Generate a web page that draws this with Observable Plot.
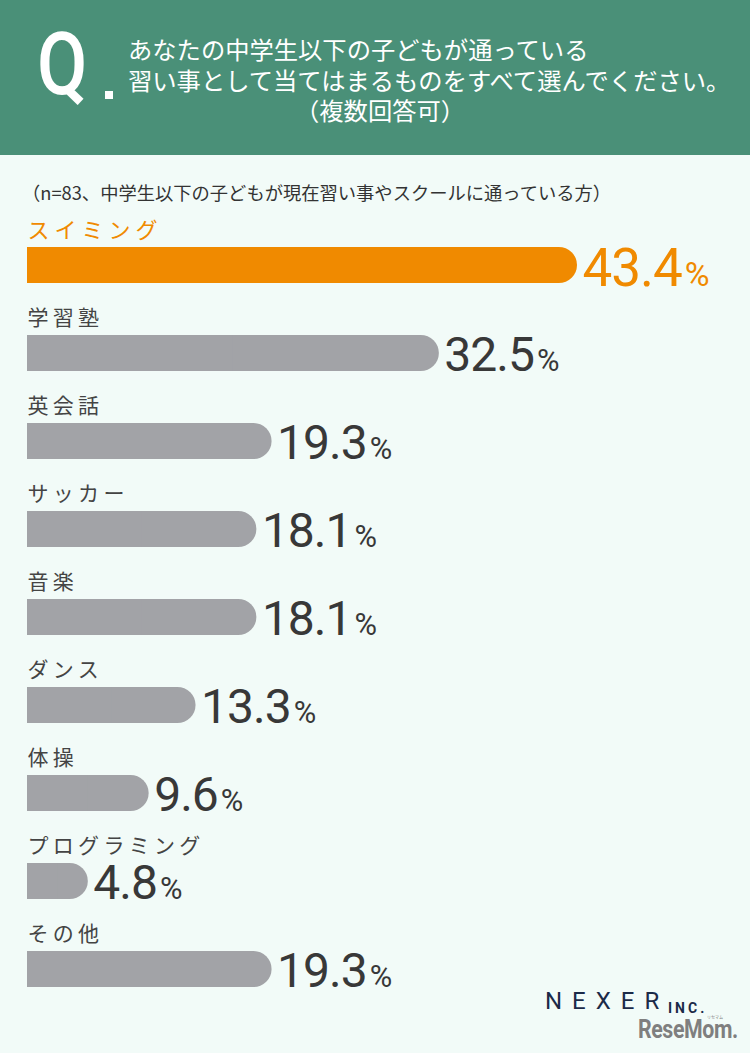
<!DOCTYPE html>
<html lang="ja">
<head>
<meta charset="utf-8">
<script src="https://cdn.jsdelivr.net/npm/d3@7"></script>
<script src="https://cdn.jsdelivr.net/npm/@observablehq/plot@0.6"></script>
<style>
  html, body { margin: 0; padding: 0; background: #f2fbf8; }
  #wrap { position: relative; width: 750px; height: 1053px; background: #f2fbf8; overflow: hidden; font-family: "Noto Sans CJK JP", "Noto Sans", sans-serif; }
  #hdr { position: absolute; left: 0; top: 0; width: 750px; height: 155px; background: #4a9078; }
  .abs { position: absolute; white-space: nowrap; }
  .tl { color: #fff; font-size: 24.3px; line-height: 28px; font-family: "Noto Sans CJK JP", sans-serif; }
  #chart { position: absolute; left: 0; top: 205px; }
</style>
</head>
<body>
<div id="wrap">
  <div id="hdr">
    <div class="abs" style="left:37px;top:21px;font:500 87px/87px Roboto,sans-serif;color:#fff;transform:scaleX(0.84);transform-origin:left top;">Q</div>
    <div class="abs" style="left:105px;top:91px;width:8px;height:8px;background:#fff;"></div>
    <div class="abs tl" style="left:128px;top:35px;">あなたの中学生以下の子どもが通っている</div>
    <div class="abs tl" style="left:128px;top:66px;">習い事として当てはまるものをすべて選んでください。</div>
    <div class="abs tl" style="left:295px;top:96px;">（複数回答可）</div>
  </div>
  <div class="abs" id="sub" style="left:22px;top:180px;font-size:18.3px;line-height:24px;color:#333;">（n=83、中学生以下の子どもが現在習い事やスクールに通っている方）</div>
  <div id="chart"></div>
  <div class="abs" style="left:545px;top:988px;font:400 24px/26px Roboto,sans-serif;color:#1b2a48;letter-spacing:10px;">NEXER</div>
  <div class="abs" style="left:668px;top:1003px;font:700 14px/11px Roboto,sans-serif;color:#1b2a48;letter-spacing:3px;">INC.</div>
  <div class="abs" style="left:707px;top:1014.5px;font:400 4px/4px 'Noto Sans CJK JP',sans-serif;color:#7f7f7f;">リセマム</div>
  <div class="abs" style="left:638px;top:1019px;font:700 26px/20px Roboto,sans-serif;color:#7f7f7f;transform:scaleX(0.82);transform-origin:left top;letter-spacing:-0.5px;">ReseMom.</div>
</div>
<script>
const categories = ["スイミング", "学習塾", "英会話", "サッカー", "音楽", "ダンス", "体操", "プログラミング", "その他"];
const values = [43.4, 32.5, 19.3, 18.1, 18.1, 13.3, 9.6, 4.8, 19.3];
const highlight = "スイミング";

const ORANGE = "#f08a00";
const GRAY = "#a2a3a7";
const LABEL = "#444444";
const NUM = "#383838";

const data = categories.map((name, i) => ({name, value: values[i]}));
const isHi = d => d.name === highlight;
const notHi = d => d.name !== highlight;

const chart = Plot.plot({
  width: 750,
  height: 792,
  margin: 0,
  style: {background: "transparent", overflow: "visible"},
  x: {domain: [0, 43.4], range: [27, 577], axis: null},
  y: {domain: categories, range: [42, 785.7], paddingInner: 0.587, paddingOuter: 0, align: 0, axis: null},
  marks: [
    Plot.barX(data, {filter: notHi, x: "value", y: "name", fill: GRAY, rx: 18.25}),
    Plot.barX(data, {filter: notHi, x1: d => 0, x2: d => d.value / 2, y: "name", fill: GRAY}),
    Plot.barX(data, {filter: isHi, x: "value", y: "name", fill: ORANGE, rx: 18.25}),
    Plot.barX(data, {filter: isHi, x1: d => 0, x2: d => d.value / 2, y: "name", fill: ORANGE}),
    Plot.text(data, {filter: notHi, x: d => 0, y: "name", text: "name", textAnchor: "start",
      dy: -35, fontSize: 21, fill: LABEL, fontFamily: "Noto Sans CJK JP"}),
    Plot.text(data, {filter: isHi, x: d => 0, y: "name", text: "name", textAnchor: "start",
      dy: -35, fontSize: 22, fill: ORANGE, fontFamily: "Noto Sans CJK JP"}),
    Plot.text(data, {filter: notHi, x: "value", y: "name", text: d => d.value.toFixed(1), textAnchor: "start",
      dx: 5, dy: 2, fontSize: 48, fontWeight: 400, fill: NUM, fontFamily: "Roboto"}),
    Plot.text(data, {filter: isHi, x: "value", y: "name", text: d => d.value.toFixed(1), textAnchor: "start",
      dx: 5, dy: 4, fontSize: 53, fontWeight: 400, fill: ORANGE, fontFamily: "Roboto"})
  ]
});

const textGroups = chart.querySelectorAll('g[aria-label="text"]');
// category labels: letter spacing
if (textGroups[0]) d3.select(textGroups[0]).selectAll("text").style("letter-spacing", "4.3px");
if (textGroups[1]) d3.select(textGroups[1]).selectAll("text").style("letter-spacing", "5px");
// value labels: append a smaller "%"
[2, 3].forEach(i => {
  if (!textGroups[i]) return;
  d3.select(textGroups[i]).selectAll("text").each(function() {
    const t = this.textContent;
    this.textContent = t;
    this.setAttribute("letter-spacing", "-1");
    d3.select(this).append("tspan").attr("font-size", "0.64em").attr("dx", "3").text("%");
  });
});

document.getElementById("chart").appendChild(chart);
</script>
</body>
</html>
